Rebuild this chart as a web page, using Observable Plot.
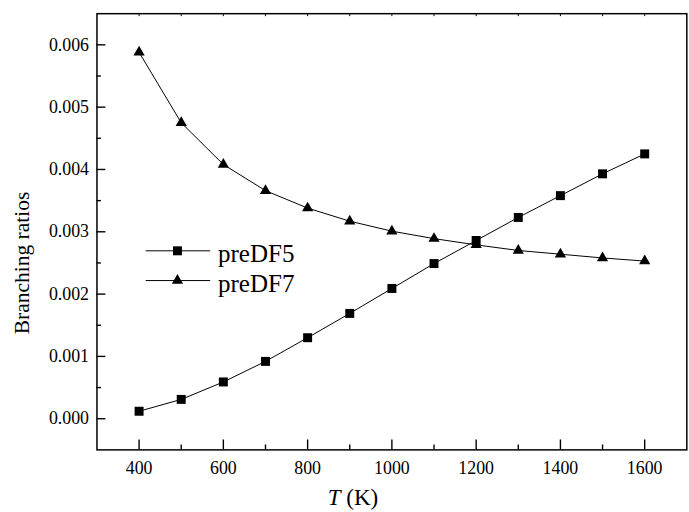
<!DOCTYPE html>
<html><head><meta charset="utf-8">
<script src="https://cdn.jsdelivr.net/npm/d3@7"></script>
<script src="https://cdn.jsdelivr.net/npm/@observablehq/plot@0.6"></script>
<style>
html,body{margin:0;padding:0;overflow:hidden;background:#fff}
#chart{position:relative;width:689px;height:512px;overflow:hidden;font-family:'Liberation Serif',serif;color:#000}
#chart svg{position:absolute;left:0;top:0}
.lbl{position:absolute;white-space:nowrap;line-height:1}
#ytitle{left:23px;top:263px;font-size:21.5px;transform:translate(-50%,-50%) rotate(-90deg)}
#xtitle{left:353px;top:497px;font-size:23px;transform:translate(-50%,-50%)}
.leg{left:218px;font-size:25px;transform:translateY(-50%)}
#preload{position:absolute;left:0;top:0;font-family:'Liberation Serif';font-size:18px;color:#fff;opacity:0.01;pointer-events:none}
</style>
</head><body>
<div id="preload">Branching ratios preDF5 preDF7 0.0123456789 (K) <i>T</i></div>
<div id="chart">
  <div class="lbl" id="ytitle">Branching ratios</div>
  <div class="lbl" id="xtitle"><i>T</i> (K)</div>
</div>
<script>
// Data
const temps  = [400, 500, 600, 700, 800, 900, 1000, 1100, 1200, 1300, 1400, 1500, 1600];
const preDF5 = [0.00012, 0.00031, 0.00059, 0.00092, 0.00130, 0.00169, 0.00209, 0.00249, 0.00286, 0.00323, 0.00358, 0.00393, 0.00425];
const preDF7 = [0.00588, 0.00475, 0.00408, 0.00366, 0.00338, 0.00317, 0.00301, 0.00289, 0.00279, 0.00270, 0.00264, 0.00258, 0.00253];
const seriesNames = ["preDF5", "preDF7"];
const xMajor = [400, 600, 800, 1000, 1200, 1400, 1600];
const xMinor = [500, 700, 900, 1100, 1300, 1500];
const yMajor = [0, 0.001, 0.002, 0.003, 0.004, 0.005, 0.006];
const yMinor = [0.0005, 0.0015, 0.0025, 0.0035, 0.0045, 0.0055];

const W = 695, H = 512, ML = 97.3, MR = 2.7, MT = 13.3, MB = 58.7;
const plotW = W - ML - MR, plotH = H - MT - MB;
const FONT = "Liberation Serif";

const rows5 = temps.map((t, i) => ({T: t, v: preDF5[i], s: seriesNames[0]}));
const rows7 = temps.map((t, i) => ({T: t, v: preDF7[i], s: seriesNames[1]}));

const svg = Plot.plot({
  width: W, height: H,
  marginLeft: ML, marginRight: MR, marginTop: MT, marginBottom: MB,
  style: {background: "transparent", color: "black", fontFamily: FONT},
  x: {domain: [300, 1700]},
  y: {domain: [-0.0005, 0.0065]},
  marks: [
    Plot.line(rows5, {x: "T", y: "v", stroke: "black", strokeWidth: 1}),
    Plot.line(rows7, {x: "T", y: "v", stroke: "black", strokeWidth: 1}),
    Plot.dot(rows5, {x: "T", y: "v", symbol: "square", r: 5.1, fill: "black", stroke: "none"}),
    Plot.dot(rows7, {x: "T", y: "v", symbol: "triangle", r: 4.2, fill: "black", stroke: "none"}),
    // inward ticks
    Plot.ruleX(xMajor, {x: d => d, insetTop: plotH - 10, stroke: "black", strokeWidth: 1.4}),
    Plot.ruleX(xMinor, {x: d => d, insetTop: plotH - 5, stroke: "black", strokeWidth: 1.4}),
    Plot.ruleX(xMajor.concat(xMinor), {x: d => d, insetBottom: plotH - 3, stroke: "black", strokeWidth: 1}),
    Plot.ruleY(yMajor, {y: d => d, insetRight: plotW - 9, stroke: "black", strokeWidth: 1.4}),
    Plot.ruleY(yMinor, {y: d => d, insetRight: plotW - 4.5, stroke: "black", strokeWidth: 1.4}),
    Plot.frame({stroke: "black", strokeWidth: 1.5}),
    Plot.axisX({ticks: xMajor, tickSize: 0, tickPadding: 12, label: null, fontSize: 18, fontFamily: FONT, tickFormat: d => String(d)}),
    Plot.axisY({ticks: yMajor, tickSize: 0, tickPadding: 8, label: null, fontSize: 18, fontFamily: FONT, tickFormat: d => d.toFixed(3)})
  ]
});
const chart = document.getElementById("chart");
chart.insertBefore(svg, chart.firstChild);

const s = d3.select(svg);
// legend lines and markers
const legRows = [
  {name: seriesNames[0], sym: d3.symbolSquare, size: Math.PI * 5.1 * 5.1, y: 253},
  {name: seriesNames[1], sym: d3.symbolTriangle, size: Math.PI * 4.2 * 4.2, y: 283}
];
const leg = s.append("g");
legRows.forEach(r => {
  leg.append("line").attr("x1", 147).attr("x2", 212).attr("y1", r.y).attr("y2", r.y)
    .attr("stroke", "black").attr("stroke-width", 1);
  leg.append("path").attr("d", d3.symbol(r.sym, r.size)()).attr("transform", `translate(179,${r.y})`)
    .attr("fill", "black");
});
const c = d3.select(chart);
legRows.forEach(r => {
  c.append("div").attr("class", "lbl leg").style("top", r.y + "px").text(r.name);
});
</script>
</body></html>
